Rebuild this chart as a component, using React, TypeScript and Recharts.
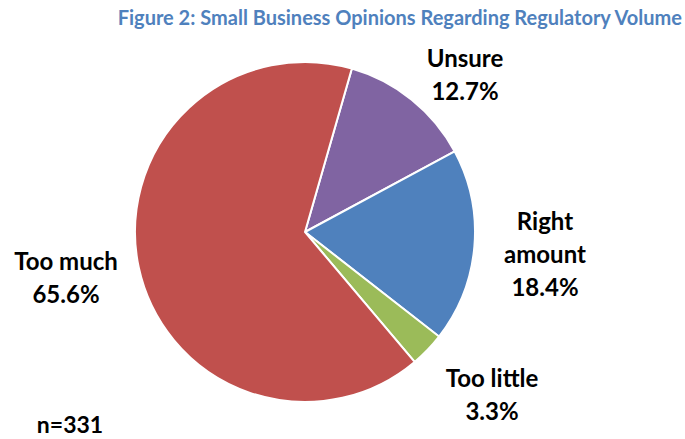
import { PieChart, Pie, Cell } from 'recharts';

const categories = ['Unsure', 'Right amount', 'Too little', 'Too much'];
const shares = [12.7, 18.4, 3.3, 65.6];
const colors = ['#8064A2', '#4F81BD', '#9BBB59', '#C0504D'];

// label lines and where they sit (centre x, first baseline y)
const labelLines: Record<string, string[]> = {
  Unsure: ['Unsure'],
  'Right amount': ['Right', 'amount'],
  'Too little': ['Too little'],
  'Too much': ['Too much'],
};
const labelPos: Record<string, [number, number]> = {
  Unsure: [465, 67],
  'Right amount': [545, 230],
  'Too little': [492, 387],
  'Too much': [66, 270],
};

const data = categories.map((name, i) => ({ name, value: shares[i] }));
const FONT = 'Lato, "Open Sans", sans-serif';

function renderLabel(props: any) {
  const { name, value } = props;
  const [x, y] = labelPos[name];
  const lines = [...labelLines[name], `${value.toFixed(1)}%`];
  return (
    <text x={x} y={y} textAnchor="middle" fontFamily={FONT} fontWeight={700} fontSize={24} fill="#000">
      {lines.map((l, i) => (
        <tspan key={i} x={x} dy={i === 0 ? 0 : 33}>{l}</tspan>
      ))}
    </text>
  );
}

export default function App() {
  return (
    <div style={{ position: 'absolute', left: 0, top: 0, width: 685, height: 439, background: '#fff' }}>
      <PieChart width={685} height={439} margin={{ top: 0, right: 0, bottom: 0, left: 0 }}>
        <text x={682} y={25} textAnchor="end" fontFamily={FONT} fontWeight={700} fontSize={20} fill="#4F81BD">
          Figure 2: Small Business Opinions Regarding Regulatory Volume
        </text>
        <Pie
          data={data}
          dataKey="value"
          nameKey="name"
          cx={305}
          cy={232}
          outerRadius={170}
          startAngle={74}
          endAngle={-286}
          stroke="#fff"
          strokeWidth={2}
          label={renderLabel}
          labelLine={false}
          isAnimationActive={false}
        >
          {data.map((d, i) => <Cell key={d.name} fill={colors[i]} />)}
        </Pie>
        <text x={70} y={433} textAnchor="middle" fontFamily={FONT} fontWeight={700} fontSize={23} fill="#000">n=331</text>
      </PieChart>
    </div>
  );
}
